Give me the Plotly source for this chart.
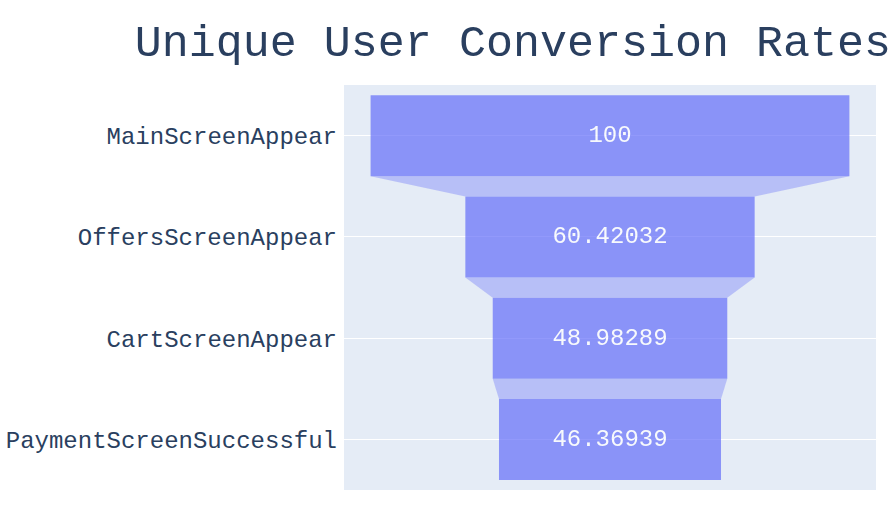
import plotly.graph_objects as go

stages = ["MainScreenAppear", "OffersScreenAppear", "CartScreenAppear", "PaymentScreenSuccessful"]
conversion = [100, 60.42032, 48.98289, 46.36939]

fig = go.Figure(
    go.Funnel(
        y=stages,
        x=conversion,
        opacity=0.7,
    )
)

fig.update_layout(
    width=893,
    height=510,
    template="plotly",
    font=dict(family="Liberation Mono, Courier New, monospace", size=24),
    title=dict(
        text="Unique User Conversion Rates",
        font=dict(size=45),
        x=0.151,
        xanchor="left",
        yref="container",
        y=1 - 40 / 510,
        yanchor="middle",
    ),
    margin=dict(l=344, r=17, t=85, b=20, autoexpand=False),
)
fig.update_yaxes(showgrid=True, gridcolor="white", ticklabelstandoff=6, automargin=False)

fig.write_html("out.html")
